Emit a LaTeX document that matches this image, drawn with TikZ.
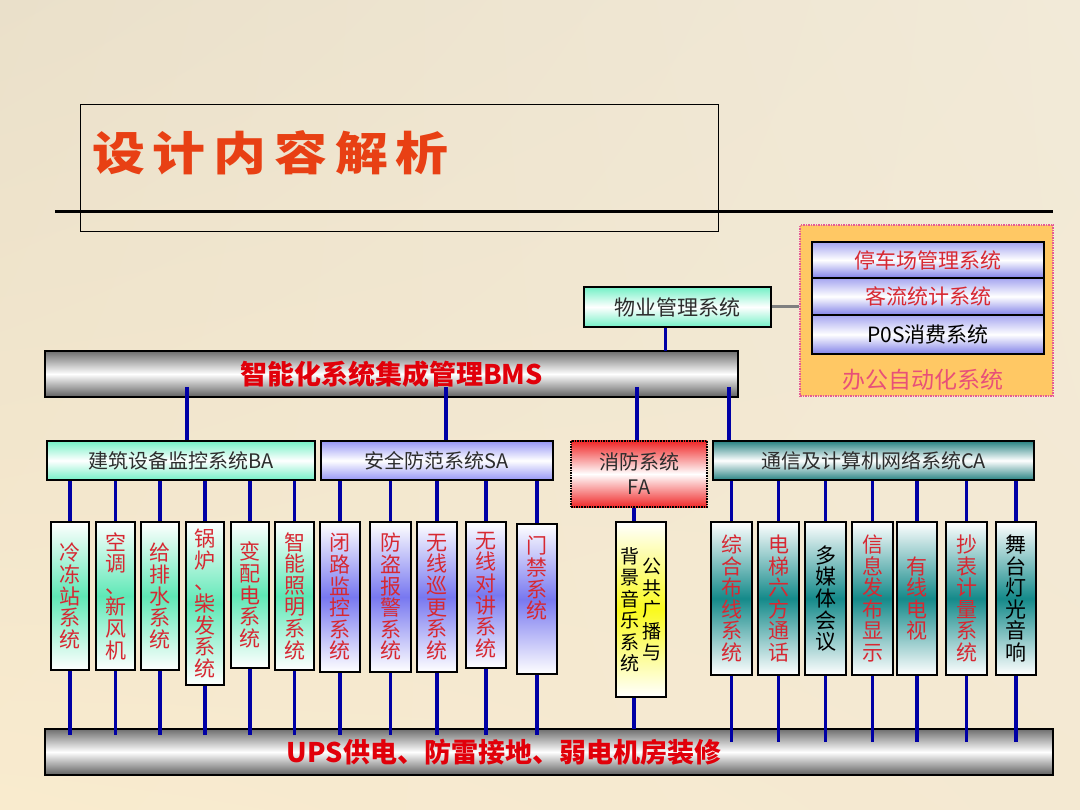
\documentclass[tikz,border=0pt]{standalone}
\usepackage{fontspec}
\setmainfont{Noto Sans CJK SC}
\newfontfamily\titlefont[LetterSpace=17,FakeStretch=1.15]{Noto Sans CJK SC}
\usetikzlibrary{calc,shadings}
\pgfdeclarelayer{back}
\pgfdeclarelayer{mid}
\pgfsetlayers{back,mid,main}
\definecolor{bgA}{RGB}{234,224,202}
\definecolor{bgB}{RGB}{242,234,216}
\definecolor{bgC}{RGB}{249,235,206}
\definecolor{bgD}{RGB}{244,233,210}
\definecolor{titlered}{RGB}{232,64,20}
\definecolor{bmsred}{RGB}{225,0,10}
\definecolor{vred}{RGB}{215,40,50}
\definecolor{oapink}{RGB}{232,80,120}
\definecolor{oaorange}{RGB}{255,200,100}
\definecolor{oadot}{RGB}{230,90,150}
\definecolor{blueline}{RGB}{0,0,165}
\definecolor{catgray}{RGB}{45,45,45}
\definecolor{mint}{RGB}{115,240,198}
\definecolor{vmint}{RGB}{95,232,182}
\definecolor{lav}{RGB}{150,150,245}
\definecolor{vlav}{RGB}{120,120,240}
\definecolor{teal}{RGB}{40,130,130}
\definecolor{vteal}{RGB}{20,138,138}
\definecolor{fared}{RGB}{240,40,40}
\definecolor{vyellow}{RGB}{250,250,30}
\definecolor{metal}{RGB}{110,110,110}
\definecolor{metaldk}{RGB}{95,95,95}
\definecolor{oablue}{RGB}{130,130,232}
\definecolor{oalav}{RGB}{165,165,240}
\newcommand\mkvert[8]{\node[vertbox, top color=white, bottom color=white, middle color=#6, text=#7,
  minimum width={(#3-#2)*1pt}, minimum height={(#5-#4)*1pt}] (#1) at ({(#2+#3)/2},{(#4+#5)/2}) {#8};}
\begin{document}
\begin{tikzpicture}[x=1pt,y=-1pt,
  box/.style={draw=black, line width=1.6pt, inner sep=0pt, outer sep=0pt},
  vertbox/.style={box, align=center, font=\fontsize{21}{21.6}\selectfont},
  catbox/.style={box, align=center, text=catgray, font=\fontsize{20}{24}\selectfont},
  bar/.style={box, top color=metal, bottom color=metaldk, middle color=white},
  bus/.style={draw=blueline, line width=3.2pt},
  oainner/.style={box, top color=oalav, bottom color=oablue, middle color=white,
    minimum width=232pt, font=\fontsize{21}{24}\selectfont}]
\begin{pgfonlayer}{back}
\shade[upper left=bgA, upper right=bgB, lower left=bgC, lower right=bgD] (0,0) rectangle (1080,810);
\node[bar, minimum width=693pt, minimum height=46pt, text=bmsred,
  font=\bfseries\fontsize{27}{29}\selectfont] (bms) at (391.5,374) {智能化系统集成管理BMS};
\node[bar, minimum width=1008pt, minimum height=46pt, text=bmsred,
  font=\bfseries\fontsize{27}{29}\selectfont] (ups) at (549,752) {UPS供电、防雷接地、弱电机房装修\rule{90pt}{0pt}};
\end{pgfonlayer}
\useasboundingbox (0,0) rectangle (1080,810);

% title
\draw[line width=1pt] (80,105) rectangle (718,232);
\draw[line width=3pt] (55,212) -- (1053,212);
\node[anchor=west, inner sep=0pt, text=titlered, font=\titlefont\bfseries\fontsize{46}{48}\selectfont] (title) at (92,153) {设计内容解析};

% office automation group
\node[draw=oadot, densely dotted, line width=1.5pt, fill=oaorange, minimum width=253pt, minimum height=171pt, inner sep=0pt] (oa) at (926.5,310.5) {};
\node[oainner, minimum height=36pt, text=vred] (p1) at (928,260) {停车场管理系统};
\node[oainner, minimum height=37pt, text=vred] (p2) at (928,296.5) {客流统计系统};
\node[oainner, minimum height=39pt, text=black] (p3) at (928,334.5) {P0S消费系统};
\node[text=oapink, font=\fontsize{23}{26}\selectfont, inner sep=0pt] (oalabel) at (923,380) {办公自动化系统};

% property management
\node[catbox, top color=mint, bottom color=mint, middle color=white, minimum width=187pt, minimum height=40pt,
  font=\fontsize{21}{24}\selectfont] (wy) at (677.5,307) {物业管理系统};

% category boxes
\node[catbox, top color=mint, bottom color=mint, middle color=white, minimum width=268pt, minimum height=39pt] (ba) at (181,460.5) {建筑设备监控系统BA};
\node[catbox, top color=lav, bottom color=lav, middle color=white, minimum width=232pt, minimum height=39pt] (sa) at (437,460.5) {安全防范系统SA};
\node[catbox, densely dotted, top color=fared, bottom color=fared, middle color=white, minimum width=136pt, minimum height=66pt,
  font=\fontsize{20}{25}\selectfont] (fa) at (639,474) {消防系统\\FA};
\node[catbox, top color=teal, bottom color=teal, middle color=white, minimum width=321pt, minimum height=39pt] (ca) at (873.5,460.5) {通信及计算机网络系统CA};

% vertical boxes
\mkvert{v1}{51}{89}{522}{670}{vmint}{vred}{冷\\冻\\站\\系\\统}
\mkvert{v2}{96}{135}{522}{670}{vmint}{vred}{空\\调\\、\\新\\风\\机}
\mkvert{v3}{141}{179}{522}{670}{vmint}{vred}{给\\排\\水\\系\\统}
\mkvert{v4}{186}{224}{522}{685}{vmint}{vred}{锅\\炉\\、\\柴\\发\\系\\统}
\mkvert{v5}{231}{269}{522}{668}{vmint}{vred}{变\\配\\电\\系\\统}
\mkvert{v6}{275}{314}{522}{670}{vmint}{vred}{智\\能\\照\\明\\系\\统}
\mkvert{v7}{320}{360}{522}{672}{vlav}{vred}{闭\\路\\监\\控\\系\\统}
\mkvert{v8}{370}{411}{522}{672}{vlav}{vred}{防\\盗\\报\\警\\系\\统}
\mkvert{v9}{417}{457}{522}{672}{vlav}{vred}{无\\线\\巡\\更\\系\\统}
\mkvert{v10}{466}{506}{522}{668}{vlav}{vred}{无\\线\\对\\讲\\系\\统}
\mkvert{v11}{517}{557}{524}{674}{vlav}{vred}{门\\禁\\系\\统\\\mbox{}\\\mbox{}}
\mkvert{v12}{616}{666}{522}{697}{vyellow}{black}{\fontsize{19}{21.5}\selectfont\parbox[c]{20pt}{\centering 背\\景\\音\\乐\\系\\统}\hspace{2pt}\parbox[c]{20pt}{\centering 公\\共\\广\\播\\与}}
\mkvert{v13}{711}{752}{522}{675}{vteal}{vred}{综\\合\\布\\线\\系\\统}
\mkvert{v14}{758}{799}{522}{675}{vteal}{vred}{电\\梯\\六\\方\\通\\话}
\mkvert{v15}{805}{846}{522}{675}{vteal}{black}{多\\媒\\体\\会\\议}
\mkvert{v16}{852}{893}{522}{675}{vteal}{vred}{信\\息\\发\\布\\显\\示}
\mkvert{v17}{897}{937}{522}{675}{vteal}{vred}{有\\线\\电\\视}
\mkvert{v18}{946}{987}{522}{675}{vteal}{vred}{抄\\表\\计\\量\\系\\统}
\mkvert{v19}{996}{1036}{522}{675}{vteal}{black}{舞\\台\\灯\\光\\音\\响}

% connectors
\begin{pgfonlayer}{mid}
\draw[line width=3pt, draw=gray] (wy.east) -- (wy.east -| oa.west);
\draw[bus] ($(wy.south)+(-12,0)$) -- ($(wy.south |- bms.north)+(-12,0)$);
\draw[bus] ($(ba.north |- bms.south)+(6,-10)$) -- ($(ba.north)+(6,0)$);
\draw[bus] ($(sa.north |- bms.south)+(9,-10)$) -- ($(sa.north)+(9,0)$);
\draw[bus] ($(fa.north |- bms.south)+(-2,-10)$) -- ($(fa.north)+(-2,0)$);
\draw[bus] ($(ca.north west |- bms.south)+(16,-10)$) -- ($(ca.north west)+(16,0)$);
\foreach \v in {v1,v2,v3,v4,v5,v6}
  \draw[bus] (ba.south -| \v) -- ($(ups.north -| \v)+(0,6)$);
\foreach \v in {v7,v8,v9,v10,v11}
  \draw[bus] (sa.south -| \v) -- ($(ups.north -| \v)+(0,6)$);
\draw[bus] ($(fa.south -| v12)+(-7,0)$) -- ($(ups.north -| v12)+(-7,0)$);
\foreach \v in {v13,v14,v15,v16,v17,v18,v19}
  \draw[bus] (ca.south -| \v) -- ($(ups.north -| \v)+(0,13)$);
\end{pgfonlayer}
\end{tikzpicture}
\end{document}
